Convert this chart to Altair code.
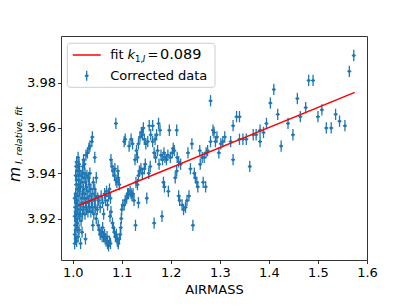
import altair as alt
import pandas as pd

# ---- data ----
airmass = [
    # dense cluster near airmass 1.0
    1.004, 1.004, 1.005, 1.004, 1.005, 1.004,
    1.006, 1.006, 1.007, 1.006, 1.007, 1.006, 1.007, 1.006, 1.007,
    1.008, 1.009, 1.008, 1.009, 1.008, 1.009, 1.008, 1.009, 1.008,
    1.011, 1.010, 1.011, 1.010, 1.011, 1.012, 1.011, 1.012, 1.011,
    1.013, 1.014, 1.013, 1.014, 1.013, 1.014, 1.013,
    1.016, 1.017, 1.016, 1.017, 1.016, 1.017,
    1.019, 1.020, 1.019, 1.020, 1.019, 1.020, 1.021,
    1.022, 1.023, 1.022, 1.023, 1.022, 1.024,
    1.025, 1.026, 1.025, 1.026, 1.025, 1.026, 1.027,
    1.028, 1.029, 1.028, 1.029, 1.030,
    1.031, 1.032, 1.031, 1.032, 1.033,
    1.034, 1.035, 1.034, 1.035, 1.035,
    1.037, 1.038, 1.037, 1.039, 1.040,
    1.040, 1.041, 1.042, 1.041,
    1.043, 1.044, 1.045, 1.045,
    1.046, 1.047, 1.048, 1.048,
    1.050, 1.051, 1.052,
    # first dip
    1.054, 1.056, 1.058, 1.060, 1.061, 1.063, 1.065, 1.066, 1.068, 1.070, 1.071, 1.073, 1.075, 1.077,
    1.053, 1.056, 1.058, 1.061, 1.063, 1.065, 1.067, 1.069, 1.071, 1.073, 1.075, 1.076, 1.078, 1.077,
    1.078, 1.080, 1.082, 1.085, 1.086, 1.088, 1.088, 1.090, 1.092, 1.093, 1.095,
    # second dip
    1.081, 1.083, 1.085, 1.087, 1.089, 1.091, 1.093, 1.095, 1.097, 1.098, 1.099,
    # rising branch
    1.100, 1.102, 1.105, 1.107, 1.110, 1.112, 1.114, 1.117, 1.119, 1.121, 1.123, 1.125,
    1.128, 1.129, 1.132, 1.134, 1.134, 1.136, 1.139, 1.142, 1.146, 1.148, 1.151, 1.155, 1.158,
    # upper band 1.10-1.19
    1.105, 1.107, 1.115, 1.119, 1.122, 1.127, 1.130, 1.132, 1.134, 1.137, 1.140, 1.142,
    1.144, 1.146, 1.149, 1.153, 1.156, 1.159, 1.163, 1.163, 1.168, 1.171, 1.175, 1.178,
    1.166, 1.169, 1.173, 1.176, 1.180, 1.183, 1.186,
    1.166, 1.182, 1.185, 1.187, 1.195,
    # 1.19-1.31
    1.197, 1.212, 1.188, 1.191, 1.194, 1.199, 1.203, 1.205, 1.207,
    1.213, 1.216, 1.220, 1.209, 1.212,
    1.216, 1.218, 1.223, 1.226, 1.230, 1.233, 1.237,
    1.235, 1.240, 1.243, 1.245,
    1.248, 1.250, 1.253, 1.255,
    1.259, 1.260, 1.264, 1.266, 1.271, 1.268, 1.272, 1.275,
    1.281, 1.281, 1.286, 1.288, 1.291, 1.294, 1.298, 1.302, 1.306,
    # high airmass
    1.310, 1.322, 1.327, 1.327, 1.334, 1.340, 1.340, 1.347, 1.354, 1.361,
    1.368, 1.374, 1.382, 1.382, 1.389, 1.395, 1.403, 1.410, 1.418, 1.425,
    1.439, 1.449, 1.458, 1.464, 1.475, 1.481, 1.490, 1.500, 1.508, 1.517,
    1.527, 1.536, 1.544, 1.555, 1.564, 1.573,
]

mag = [
    3.909, 3.913, 3.917, 3.921, 3.925, 3.929,
    3.911, 3.915, 3.919, 3.923, 3.927, 3.931, 3.935, 3.939, 3.943,
    3.910, 3.916, 3.920, 3.924, 3.928, 3.933, 3.937, 3.941, 3.945,
    3.912, 3.918, 3.922, 3.926, 3.930, 3.935, 3.939, 3.943, 3.947,
    3.915, 3.921, 3.926, 3.932, 3.937, 3.941, 3.944,
    3.909, 3.919, 3.924, 3.929, 3.934, 3.939,
    3.914, 3.922, 3.927, 3.931, 3.936, 3.940, 3.943,
    3.925, 3.929, 3.933, 3.938, 3.946, 3.944,
    3.922, 3.927, 3.931, 3.936, 3.940, 3.911, 3.948,
    3.924, 3.929, 3.934, 3.939, 3.949,
    3.923, 3.927, 3.932, 3.938, 3.951,
    3.925, 3.930, 3.935, 3.940, 3.952,
    3.923, 3.928, 3.933, 3.954, 3.956,
    3.925, 3.931, 3.936, 3.917,
    3.922, 3.928, 3.933, 3.947,
    3.925, 3.930, 3.938, 3.920,
    3.924, 3.929, 3.917,
    3.915, 3.913, 3.914, 3.912, 3.916, 3.912, 3.913, 3.911, 3.910, 3.912, 3.909, 3.908, 3.910, 3.909,
    3.928, 3.925, 3.930, 3.927, 3.922, 3.931, 3.928, 3.932, 3.926, 3.930, 3.933, 3.921, 3.923, 3.929,
    3.946, 3.943, 3.941, 3.939, 3.942, 3.937, 3.962, 3.936, 3.941, 3.938, 3.935,
    3.918, 3.916, 3.914, 3.912, 3.913, 3.910, 3.909, 3.911, 3.913, 3.916, 3.920,
    3.924, 3.926, 3.926, 3.928, 3.929, 3.931, 3.931, 3.932, 3.931, 3.930, 3.931, 3.928,
    3.917, 3.936, 3.935, 3.939, 3.927, 3.941, 3.942, 3.940, 3.942, 3.944, 3.929, 3.940, 3.943,
    3.954, 3.955, 3.952, 3.955, 3.953, 3.946, 3.950, 3.947, 3.953, 3.956, 3.958, 3.957,
    3.960, 3.955, 3.953, 3.954, 3.961, 3.957, 3.954, 3.961, 3.955, 3.957, 3.962, 3.959,
    3.949, 3.947, 3.950, 3.944, 3.948, 3.946, 3.949,
    3.918, 3.921, 3.936, 3.934, 3.932,
    3.959, 3.959, 3.947, 3.946, 3.948, 3.947, 3.949, 3.951, 3.950,
    3.947, 3.945, 3.944, 3.938, 3.941,
    3.930, 3.928, 3.926, 3.924, 3.925, 3.928, 3.930,
    3.949, 3.942, 3.953, 3.917,
    3.940, 3.938, 3.936, 3.934,
    3.950, 3.944, 3.947, 3.936, 3.934, 3.947, 3.949, 3.950,
    3.954, 3.972, 3.959, 3.958, 3.954, 3.956, 3.949, 3.953, 3.954,
    3.956, 3.954, 3.946, 3.961, 3.965, 3.965, 3.955, 3.955, 3.955, 3.943,
    3.957, 3.957, 3.959, 3.954, 3.958, 3.962, 3.971, 3.977, 3.966, 3.952,
    3.962, 3.957, 3.973, 3.965, 3.969, 3.981, 3.981, 3.965, 3.968, 3.960,
    3.960, 3.966, 3.963, 3.961, 3.985, 3.992,
]

fit_x = [1.013, 1.575]
fit_y = [3.9259, 3.9757]

x_ticks = [1.0, 1.1, 1.2, 1.3, 1.4, 1.5, 1.6]
y_ticks = [3.92, 3.94, 3.96, 3.98]

y_err = 0.0025
x_err = 0.004

fit_label = ["fit", "k", "1,", "I", "=", "0.089"]
data_label = "Corrected data"
y_title = ["m", "I, relative, fit"]
x_title = "AIRMASS"

# ---- chart ----
BLUE = "#1f77b4"
FONT = "DejaVu Sans"

df = pd.DataFrame({"airmass": airmass, "mag": mag})
df["ylo"] = df["mag"] - y_err
df["yhi"] = df["mag"] + y_err
df["xlo"] = df["airmass"] - x_err
df["xhi"] = df["airmass"] + x_err

fit_df = pd.DataFrame({"airmass": fit_x, "mag": fit_y})

xscale = alt.Scale(domain=[0.9761, 1.6], nice=False, zero=False)
yscale = alt.Scale(domain=[3.9017, 4.0006], nice=False, zero=False)

xaxis = alt.Axis(values=x_ticks, format=".1f", title=x_title, grid=False, domain=False,
                 tickSize=3.5, tickColor="black", tickWidth=0.8,
                 labelFont=FONT, labelFontSize=13, labelColor="black", labelPadding=3,
                 titleFont=FONT, titleFontSize=13, titleColor="black",
                 titleFontWeight="normal", titlePadding=4, labelFlush=False)
yaxis = alt.Axis(values=y_ticks, format=".2f", title=None, grid=False, domain=False,
                 tickSize=3.5, tickColor="black", tickWidth=0.8,
                 labelFont=FONT, labelFontSize=13, labelColor="black", labelPadding=2,
                 labelFlush=False)

X = alt.X("airmass:Q", scale=xscale, axis=xaxis)
Y = alt.Y("mag:Q", scale=yscale, axis=yaxis)

vbars = alt.Chart(df).mark_rule(color=BLUE, strokeWidth=1.3).encode(
    x=X, y=alt.Y("ylo:Q", scale=yscale, axis=yaxis), y2="yhi:Q")
hbars = alt.Chart(df).mark_rule(color=BLUE, strokeWidth=1.3).encode(
    x=alt.X("xlo:Q", scale=xscale, axis=xaxis), x2="xhi:Q", y=Y)
pts = alt.Chart(df).mark_circle(color=BLUE, size=9, opacity=1).encode(x=X, y=Y)
fit = alt.Chart(fit_df).mark_line(color="red", strokeWidth=1.5).encode(x=X, y=Y)

one = pd.DataFrame({"k": [0]})

def txt(text, x, y, size=13, style="normal", angle=0, baseline="middle"):
    return alt.Chart(one).mark_text(
        text=text, font=FONT, fontSize=size, fontStyle=style, color="black",
        align="left", baseline=baseline, angle=angle,
    ).encode(x=alt.value(x), y=alt.value(y))

# y-axis title m_{I, relative, fit}
ytitle_m = txt(y_title[0], -41.5, 146, size=15.5, style="italic", angle=270, baseline="alphabetic")
ytitle_sub = txt(y_title[1], -39.5, 128, size=9, style="italic", angle=270, baseline="alphabetic")

# legend
leg_box = alt.Chart(one).mark_rect(fill="white", fillOpacity=0.8, stroke="#cccccc",
                                   strokeWidth=1, cornerRadius=3).encode(
    x=alt.value(6.3), x2=alt.value(154), y=alt.value(7.3), y2=alt.value(51.3))
leg_line = alt.Chart(one).mark_rule(color="red", strokeWidth=1.5).encode(
    x=alt.value(11.7), x2=alt.value(39.7), y=alt.value(19))
leg_vbar = alt.Chart(one).mark_rule(color=BLUE, strokeWidth=1.3).encode(
    x=alt.value(25.7), y=alt.value(34.7), y2=alt.value(44.7))
leg_hbar = alt.Chart(one).mark_rule(color=BLUE, strokeWidth=1.3).encode(
    x=alt.value(23.7), x2=alt.value(27.7), y=alt.value(39.7))
leg_pt = alt.Chart(one).mark_circle(color=BLUE, size=9, opacity=1).encode(
    x=alt.value(25.7), y=alt.value(39.7))
t_fit = txt(fit_label[0], 49.2, 19)
t_k = txt(fit_label[1], 66.5, 19, style="italic")
t_sub1 = txt(fit_label[2], 74.0, 23, size=8.5)
t_sub2 = txt(fit_label[3], 81.8, 23, size=8.5, style="italic")
t_eq = txt(fit_label[4], 86.5, 19)
t_val = txt(fit_label[5], 99.0, 19, size=14.5)
t_data = txt(data_label, 49.2, 39.7)

chart = alt.layer(
    vbars, hbars, pts, fit,
    ytitle_m, ytitle_sub,
    leg_box, leg_line, leg_vbar, leg_hbar, leg_pt,
    t_fit, t_k, t_sub1, t_sub2, t_eq, t_val, t_data,
).properties(
    width=306, height=224,
    padding={"left": 53, "top": 28, "right": 26, "bottom": 39},
    autosize=alt.AutoSizeParams(type="none"),
).configure_view(stroke="#333333", strokeWidth=1)

chart.save("out.html", embed_options={"renderer": "svg", "actions": False})
